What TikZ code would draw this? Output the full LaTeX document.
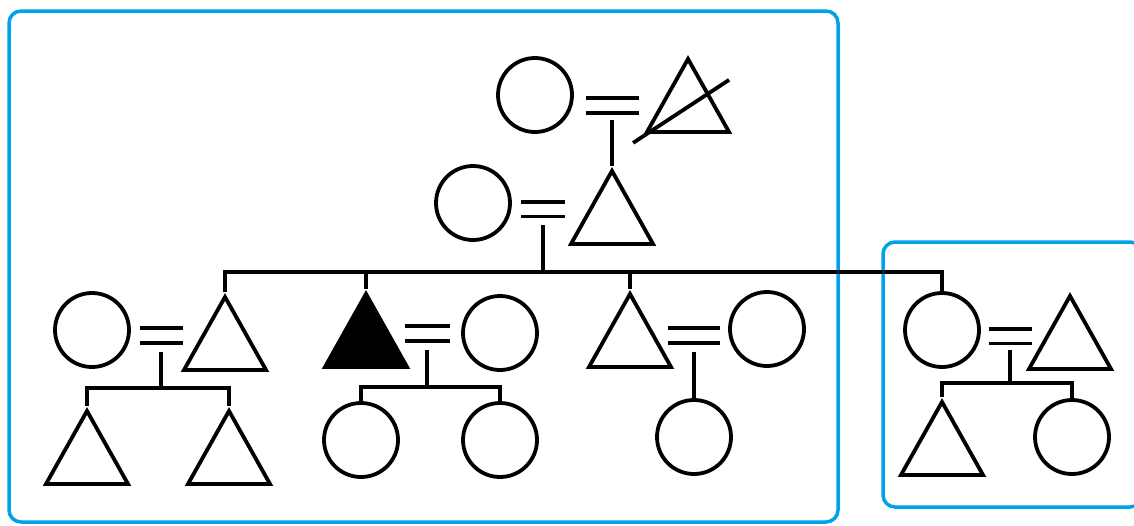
\documentclass[tikz,border=0pt]{standalone}
\usetikzlibrary{shapes.geometric}
\definecolor{boxblue}{RGB}{0,162,232}

\tikzset{
  female/.style={circle, draw, line width=3.8pt, minimum size=74pt, inner sep=0pt},
  male/.style={isosceles triangle, isosceles triangle stretches, shape border rotate=90,
    minimum width=82pt, minimum height=73pt, inner sep=0pt, draw, line width=3.8pt, anchor=apex},
  affected/.style={male, fill=black},
  link/.style={line width=3.8pt},
  marriage/.style={double, double distance=11pt, line width=3.8pt},
  family/.style={draw=boxblue, line width=3.5pt, rounded corners=12pt},
}

\begin{document}
\begin{tikzpicture}[x=1pt, y=-1pt]
    \useasboundingbox (0,0) rectangle (1134,525);

    % family frames
    \draw[family] (9,11) rectangle (838,522);
    \draw[family] (883,242) rectangle (1142,507);

    % generation I
    \node[female] (ggm) at (535,95) {};
    \node[male] (ggf) at (688,54) {};
    \draw[link] ([shift={(-29,9)}]ggf.south west) -- ++(96,-63);
    \coordinate (u1) at (612,105.5);
    \draw[marriage] ([xshift=-26.5pt]u1) -- ([xshift=26.5pt]u1);

    % generation II
    \node[female] (gm) at (473,203) {};
    \node[male] (gf) at (612,166) {};
    \draw[link] ([yshift=-14pt]u1) -- (gf.apex);
    \coordinate (u2) at (543,209);
    \draw[marriage] ([xshift=-22pt]u2) -- ([xshift=22pt]u2);

    % generation III
    \node[female] (wa) at (92,330) {};
    \node[male] (sa) at (225,292) {};
    \node[affected] (sb) at (366,289) {};
    \node[female] (wb) at (500,333) {};
    \node[male] (sc) at (630,289) {};
    \node[female] (wc) at (767,329) {};
    \node[female] (dd) at (942,330) {};
    \node[male] (hd) at (1070,291) {};

    \coordinate (sib) at (543,272);
    \draw[link] ([yshift=-16pt]u2) -- (sib);
    \draw[link] (sa.apex) |- (sib) -| (dd.north);
    \draw[link] (sb.apex) -- (sb.apex |- sib);
    \draw[link] (sc.apex) -- (sc.apex |- sib);

    \coordinate (u3) at (161,335.5);
    \coordinate (u4) at (427,333.5);
    \coordinate (u5) at (694,335.5);
    \coordinate (u6) at (1010,336);
    \foreach \u/\h in {u3/21.5, u4/22.5, u5/26, u6/21.5}
        \draw[marriage] ([xshift=-\h pt]\u) -- ([xshift=\h pt]\u);

    % generation IV
    \node[male] (ka1) at (87,406) {};
    \node[male] (ka2) at (229,406) {};
    \node[female] (kb1) at (361,440) {};
    \node[female] (kb2) at (500,440) {};
    \node[female] (kc) at (694,437) {};
    \node[male] (kd1) at (942,397) {};
    \node[female] (kd2) at (1072,437) {};

    \coordinate (ca) at (161,388);
    \coordinate (cb) at (427,387);
    \coordinate (cd) at (1010,383);
    \draw[link] ([yshift=-16pt]u3) -- (ca);
    \draw[link] (ka1.apex) |- (ca) -| (ka2.apex);
    \draw[link] ([yshift=-16pt]u4) -- (cb);
    \draw[link] (kb1.north) |- (cb) -| (kb2.north);
    \draw[link] ([yshift=-16pt]u5) -- (kc.north);
    \draw[link] ([yshift=-14pt]u6) -- (cd);
    \draw[link] (kd1.apex) |- (cd) -| (kd2.north);
\end{tikzpicture}
\end{document}
